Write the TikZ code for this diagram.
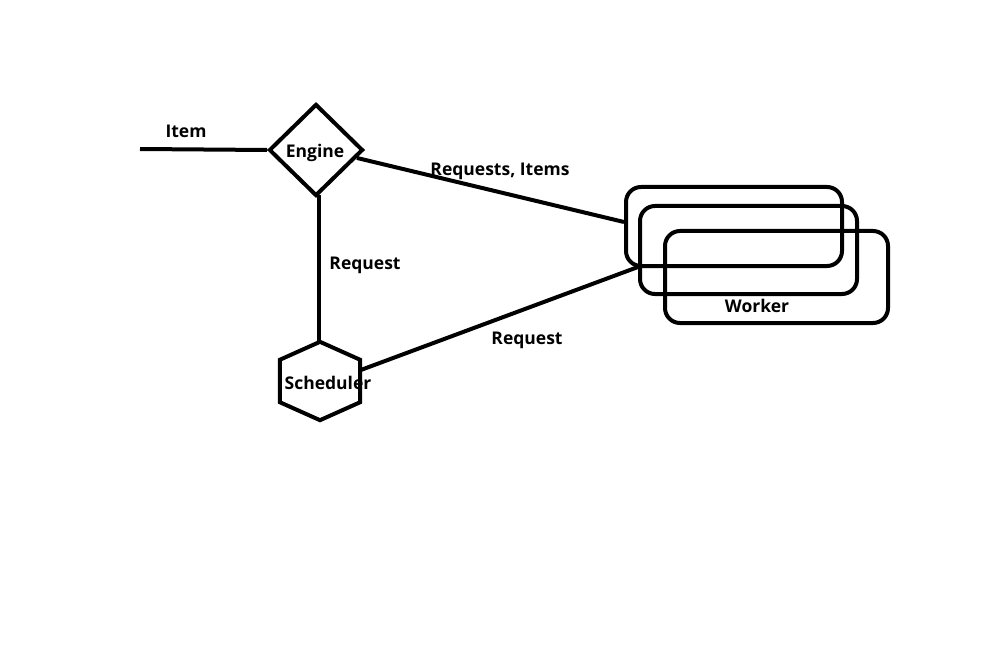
\documentclass[tikz,border=0pt]{standalone}
\usepackage{fontspec}
\setmainfont{Open Sans}
\usetikzlibrary{shapes.geometric}
\tikzset{
  stroke/.style={line width=4pt, black},
  lbl/.style={font=\fontsize{17.5}{20}\selectfont\bfseries, text=black, inner sep=0pt},
  workerbox/.style={stroke, draw, rounded corners=15pt, inner sep=0pt},
}
\begin{document}
\begin{tikzpicture}[x=1pt,y=-1pt]
\useasboundingbox (0,0) rectangle (992,668);
% Engine
\node[stroke, draw, diamond, minimum width=94pt, minimum height=92pt, inner sep=0pt, aspect=1.02] (engine) at (316,150) {};
\node[lbl] (enginetxt) at (315,153) {Engine};
% Scheduler (hexagon)
\node[minimum width=80pt, minimum height=78pt, inner sep=0pt] (sched) at (320,381) {};
\draw[stroke, line join=miter] (sched.north) -- ([yshift=-18pt]sched.north east) -- ([yshift=18pt]sched.south east)
  -- (sched.south) -- ([yshift=18pt]sched.south west) -- ([yshift=-18pt]sched.north west) -- cycle;
\node[lbl] (schedtxt) at (328,383) {Scheduler};
% Workers
\node[workerbox, minimum width=216pt, minimum height=79pt] (w1) at (734,226.5) {};
\node[workerbox, minimum width=217pt, minimum height=88pt] (w2) at (748.5,250) {};
\node[workerbox, minimum width=223pt, minimum height=92pt] (w3) at (776.5,277) {};
\node[lbl] (workertxt) at (757,306) {Worker};
% Item input
\coordinate (itemstart) at (140,149);
\draw[stroke] (itemstart) -- (engine.west);
\node[lbl] (itemtxt) at (186,131) {Item};
% Connectors
\draw[stroke] (engine.-11.6) -- ([yshift=4.5pt]w1.west);
\node[lbl] (reqitems) at (500,171) {Requests, Items};
\draw[stroke] ([xshift=3pt,yshift=3pt]engine.south) -- ([xshift=-1pt]sched.north);
\node[lbl] (req1) at (365,265) {Request};
\draw[stroke] (sched.15) -- ([yshift=-17pt]w2.west);
\node[lbl] (req2) at (527,340) {Request};
\end{tikzpicture}
\end{document}
